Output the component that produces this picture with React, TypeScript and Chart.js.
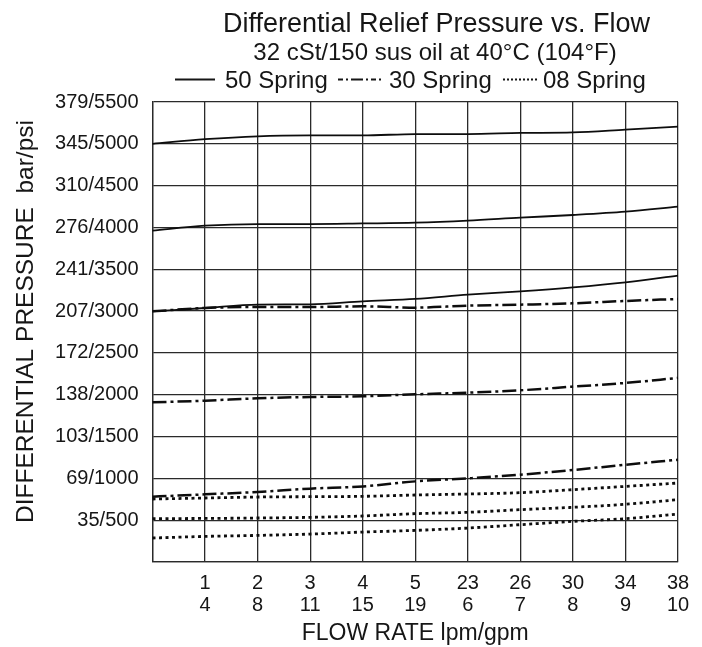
import React, { useEffect, useRef } from 'react';
import { Chart, registerables } from 'chart.js';

Chart.register(...registerables);

const FONT = "'Liberation Sans', Arial, Helvetica, sans-serif";

const TITLE = 'Differential Relief Pressure vs. Flow';
const SUBTITLE = '32 cSt/150 sus oil at 40°C (104°F)';
const Y_TITLE = 'DIFFERENTIAL PRESSURE  bar/psi';
const X_TITLE = 'FLOW RATE lpm/gpm';

const FLOW_TOP = ['', '1', '2', '3', '4', '5', '23', '26', '30', '34', '38'];
const FLOW_BOTTOM = ['', '4', '8', '11', '15', '19', '6', '7', '8', '9', '10'];

const Y_LABELS = ['', '35/500', '69/1000', '103/1500', '138/2000', '172/2500', '207/3000', '241/3500', '276/4000', '310/4500', '345/5000', '379/5500'];

const SERIES_NAMES = ['50 Spring', '30 Spring', '08 Spring'];

// pressure values in psi
const spring50High = [5000, 5055, 5090, 5100, 5100, 5117, 5117, 5130, 5137, 5170, 5205];
const spring50Mid = [3961, 4021, 4041, 4041, 4048, 4057, 4081, 4117, 4149, 4189, 4249];
const spring50Low = [2997, 3037, 3077, 3081, 3117, 3145, 3196, 3236, 3284, 3344, 3425];
const spring30High = [2997, 3037, 3049, 3049, 3057, 3041, 3065, 3077, 3093, 3121, 3145];
const spring30Mid = [1909, 1929, 1957, 1973, 1981, 2005, 2025, 2053, 2097, 2141, 2201];
const spring30Low = [781, 809, 837, 877, 904, 964, 1000, 1044, 1100, 1163, 1223];
const spring08High = [753, 765, 777, 781, 785, 801, 813, 829, 865, 904, 944];
const spring08Mid = [518, 521, 526, 534, 550, 578, 594, 626, 654, 690, 745];
const spring08Low = [287, 306, 318, 334, 358, 378, 406, 446, 486, 518, 574];

const SOLID: number[] = [];
const DASHDOT = [14, 4, 3, 4];
const DOTTED = [3, 3.5];

const INK = '#161616';

export default function App() {
  const ref = useRef<HTMLCanvasElement>(null);

  useEffect(() => {
    const labels = FLOW_TOP.map((t, i) => [t, FLOW_BOTTOM[i]]);

    const mk = (name: string, data: number[], dash: number[], width: number) => ({
      label: name,
      data,
      borderColor: '#0d0d0d',
      backgroundColor: '#0d0d0d',
      borderWidth: width,
      borderDash: dash,
      pointRadius: 0,
      fill: false,
      cubicInterpolationMode: 'monotone' as const,
      clip: 4,
    });

    const textPlugin = {
      id: 'texts',
      afterDraw(chart: any) {
        const ctx = chart.ctx as CanvasRenderingContext2D;
        const area = chart.chartArea;
        ctx.save();
        ctx.fillStyle = INK;
        ctx.strokeStyle = INK;
        ctx.textBaseline = 'alphabetic';
        ctx.textAlign = 'center';

        ctx.font = `27px ${FONT}`;
        ctx.fillText(TITLE, 436.5, 32);
        ctx.font = `24px ${FONT}`;
        ctx.fillText(SUBTITLE, 435, 60);

        // legend
        ctx.textAlign = 'left';
        const items = [
          { x0: 175, x1: 215, tx: 225, dash: SOLID, w: 2 },
          { x0: 338, x1: 383, tx: 389, dash: [5, 3, 2, 3, 12, 3, 2, 3], w: 2.2 },
          { x0: 503, x1: 539, tx: 543, dash: [2, 2], w: 2.2 },
        ];
        items.forEach((it, i) => {
          ctx.save();
          ctx.lineWidth = it.w;
          ctx.setLineDash(it.dash);
          ctx.beginPath();
          ctx.moveTo(it.x0, 79.5);
          ctx.lineTo(it.x1, 79.5);
          ctx.stroke();
          ctx.restore();
          ctx.fillText(SERIES_NAMES[i], it.tx, 88);
        });

        // y title
        ctx.save();
        ctx.font = `24.5px ${FONT}`;
        ctx.textAlign = 'center';
        ctx.translate(33, 321.5);
        ctx.rotate(-Math.PI / 2);
        ctx.fillText(Y_TITLE, 0, 0);
        ctx.restore();

        // x title
        ctx.font = `23px ${FONT}`;
        ctx.textAlign = 'center';
        ctx.fillText(X_TITLE, (area.left + area.right) / 2, 640);
        ctx.restore();
      },
    };

    const chart = new Chart(ref.current!, {
      type: 'line',
      data: {
        labels,
        datasets: [
          mk(SERIES_NAMES[0], spring50High, SOLID, 1.8),
          mk(SERIES_NAMES[0], spring50Mid, SOLID, 1.8),
          mk(SERIES_NAMES[0], spring50Low, SOLID, 1.8),
          mk(SERIES_NAMES[1], spring30High, DASHDOT, 2.5),
          mk(SERIES_NAMES[1], spring30Mid, DASHDOT, 2.5),
          mk(SERIES_NAMES[1], spring30Low, DASHDOT, 2.5),
          mk(SERIES_NAMES[2], spring08High, DOTTED, 2.8),
          mk(SERIES_NAMES[2], spring08Mid, DOTTED, 2.8),
          mk(SERIES_NAMES[2], spring08Low, DOTTED, 2.8),
        ],
      },
      options: {
        animation: false,
        responsive: true,
        maintainAspectRatio: false,
        layout: { padding: { top: 102, right: 24, left: 0, bottom: 0 } },
        plugins: {
          legend: { display: false },
          title: { display: false },
          tooltip: { enabled: false },
        },
        scales: {
          x: {
            type: 'category',
            offset: false,
            grid: { color: '#2a2a2a', lineWidth: 1.3, drawTicks: false, offset: false },
            border: { color: '#2a2a2a', width: 1.3 },
            ticks: {
              autoSkip: false,
              maxRotation: 0,
              minRotation: 0,
              padding: 10,
              color: INK,
              font: { family: FONT, size: 20, lineHeight: 1.1 },
            },
            afterFit: (s: any) => {
              s.height = 85;
            },
          },
          y: {
            min: 0,
            max: 5500,
            grid: { color: '#2a2a2a', lineWidth: 1.3, drawTicks: false },
            border: { color: '#2a2a2a', width: 1.3 },
            ticks: {
              stepSize: 500,
              padding: 14,
              color: INK,
              font: { family: FONT, size: 20 },
              callback: (v: any) => Y_LABELS[Math.round(Number(v) / 500)] ?? '',
            },
            afterFit: (s: any) => {
              s.width = 152.5;
            },
          },
        },
      },
      plugins: [textPlugin],
    });
    return () => chart.destroy();
  }, []);

  return (
    <div style={{ position: 'fixed', left: 0, top: 0, width: 702, height: 647, background: '#fff' }}>
      <canvas ref={ref} />
    </div>
  );
}
